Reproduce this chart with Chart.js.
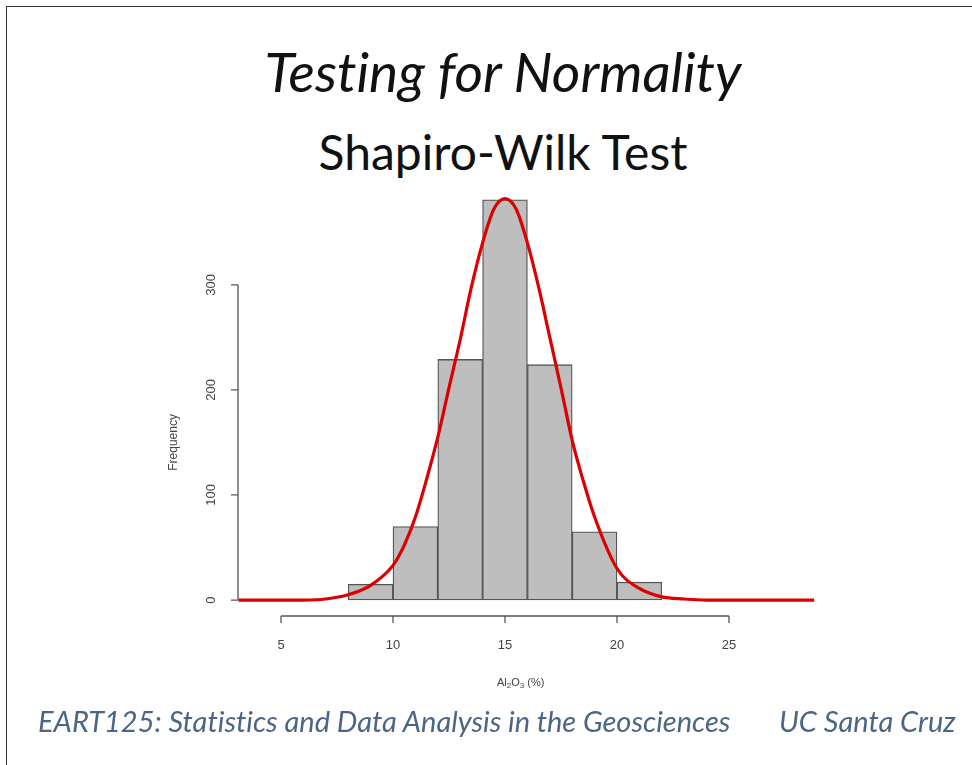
<!DOCTYPE html>
<html>
<head>
<meta charset="utf-8">
<script src="https://cdn.jsdelivr.net/npm/chart.js@4.4.1/dist/chart.umd.min.js"></script>
<style>
  body { margin: 0; background: #fff; }
  #pagina { position: relative; width: 972px; height: 765px; overflow: hidden; background: #fff; }
  #marco { position: absolute; left: 6px; top: 6px; right: -10px; bottom: -10px; border-top: 1.5px solid #333; border-left: 1.5px solid #333; }
  .texto { position: absolute; font-family: Lato, "Open Sans", sans-serif; white-space: nowrap; font-variant-ligatures: none; }
  #titulo { left: 0; width: 1006px; text-align: center; top: 38px; font-size: 55px; font-style: italic; color: #111; }
  #subtitulo { left: 0; width: 1006px; text-align: center; top: 123px; font-size: 48px; color: #111; }
  #pie1 { left: 38px; top: 703px; font-size: 29px; font-style: italic; color: #4a6585; }
  #pie2 { left: 779px; top: 703px; font-size: 29px; font-style: italic; color: #4a6585; }
  canvas { position: absolute; left: 0; top: 0; }
</style>
</head>
<body>
<div id="pagina">
  <div id="marco"></div>
  <div class="texto" id="titulo">Testing for Normality</div>
  <div class="texto" id="subtitulo">Shapiro-Wilk Test</div>
  <canvas id="miGrafica" width="972" height="765"></canvas>
  <div class="texto" id="pie1">EART125: Statistics and Data Analysis in the Geosciences</div>
  <div class="texto" id="pie2">UC Santa Cruz</div>
</div>
<script>
// Histograma: centro de cada clase (ancho 2) y frecuencia
const centrosClase = [9, 11, 13, 15, 17, 19, 21];
const frecuencias = [15, 70, 229, 381, 224, 65, 17];

// Curva normal ajustada
const curvaX = [3.1, 4, 5, 6, 7, 8, 9, 10, 10.5, 11, 11.5, 12, 12.5, 13, 13.5, 14, 14.5, 15,
  15.5, 16, 16.5, 17, 17.5, 18, 18.5, 19, 20, 21, 22, 23, 24, 25, 26, 27, 28, 28.8];
const curvaY = [0, 0, 0, 0, 1, 5, 14, 33, 52, 79, 115, 155, 202, 248, 298, 340, 372, 382,
  372, 340, 298, 250, 202, 152, 113, 79, 30, 11, 3, 1, 0, 0, 0, 0, 0, 0];

// Ejes
const ticksX = [5, 10, 15, 20, 25];
const ticksY = [0, 100, 200, 300];

// Ejes estilo R, separados del área de datos
const ejesR = {
  id: "ejesR",
  afterDraw(chart) {
    const c = chart.ctx;
    const sx = chart.scales.x;
    const sy = chart.scales.y;
    const area = chart.chartArea;
    c.save();
    c.strokeStyle = "#555";
    c.fillStyle = "#444";
    c.lineWidth = 1.3;
    c.font = "13px 'Liberation Sans', Arial, sans-serif";

    // eje Y
    const xEje = area.left;
    c.beginPath();
    c.moveTo(xEje, sy.getPixelForValue(ticksY[0]));
    c.lineTo(xEje, sy.getPixelForValue(ticksY[ticksY.length - 1]));
    ticksY.forEach((v) => {
      const p = sy.getPixelForValue(v);
      c.moveTo(xEje, p);
      c.lineTo(xEje - 7, p);
    });
    c.stroke();
    c.textAlign = "center";
    c.textBaseline = "middle";
    ticksY.forEach((v) => {
      const p = sy.getPixelForValue(v);
      c.save();
      c.translate(xEje - 27, p);
      c.rotate(-Math.PI / 2);
      c.fillText(String(v), 0, 0);
      c.restore();
    });
    c.save();
    c.translate(xEje - 64, sy.getPixelForValue(150));
    c.rotate(-Math.PI / 2);
    c.font = "12px 'Liberation Sans', Arial, sans-serif";
    c.fillText("Frequency", 0, 0);
    c.restore();

    // eje X
    const yEje = area.bottom;
    c.beginPath();
    c.moveTo(sx.getPixelForValue(ticksX[0]), yEje);
    c.lineTo(sx.getPixelForValue(ticksX[ticksX.length - 1]), yEje);
    ticksX.forEach((v) => {
      const p = sx.getPixelForValue(v);
      c.moveTo(p, yEje);
      c.lineTo(p, yEje + 7);
    });
    c.stroke();
    ticksX.forEach((v) => {
      c.fillText(String(v), sx.getPixelForValue(v), yEje + 29);
    });

    // título eje X con subíndices: Al2O3 (%)
    const partes = [["Al", 0], ["2", 1], ["O", 0], ["3", 1], [" (%)", 0]];
    const fNormal = "11px 'Liberation Sans', Arial, sans-serif";
    const fSub = "8px 'Liberation Sans', Arial, sans-serif";
    let ancho = 0;
    partes.forEach(([t, s]) => {
      c.font = s ? fSub : fNormal;
      ancho += c.measureText(t).width;
    });
    let xt = sx.getPixelForValue(15.7) - ancho / 2;
    c.textAlign = "left";
    partes.forEach(([t, s]) => {
      c.font = s ? fSub : fNormal;
      c.fillText(t, xt, yEje + 67 + (s ? 3 : 0));
      xt += c.measureText(t).width;
    });
    c.restore();
  },
};

const ctx = document.getElementById("miGrafica").getContext("2d");
new Chart(ctx, {
  data: {
    datasets: [
      {
        type: "line",
        data: curvaX.map((x, i) => ({ x: x, y: curvaY[i] })),
        borderColor: "#dd0000",
        borderWidth: 3.2,
        pointRadius: 0,
        cubicInterpolationMode: "monotone",
        fill: false,
        order: 0,
      },
      {
        type: "bar",
        data: centrosClase.map((x, i) => ({ x: x, y: frecuencias[i] })),
        backgroundColor: "#bebebe",
        borderColor: "#555",
        borderWidth: 1.3,
        borderSkipped: false,
        barPercentage: 1,
        categoryPercentage: 1,
        order: 1,
      },
    ],
  },
  options: {
    responsive: false,
    animation: false,
    layout: { padding: { left: 238, top: 184, right: 157, bottom: 149 } },
    plugins: { legend: { display: false }, tooltip: { enabled: false } },
    scales: {
      x: {
        type: "linear",
        min: 3.08,
        max: 28.84,
        offset: false,
        display: false,
        afterBuildTicks: (eje) => {
          eje.ticks = ticksX.map((v) => ({ value: v }));
        },
      },
      y: { type: "linear", min: -15.2, max: 396, display: false },
    },
  },
  plugins: [ejesR],
});
</script>
</body>
</html>
